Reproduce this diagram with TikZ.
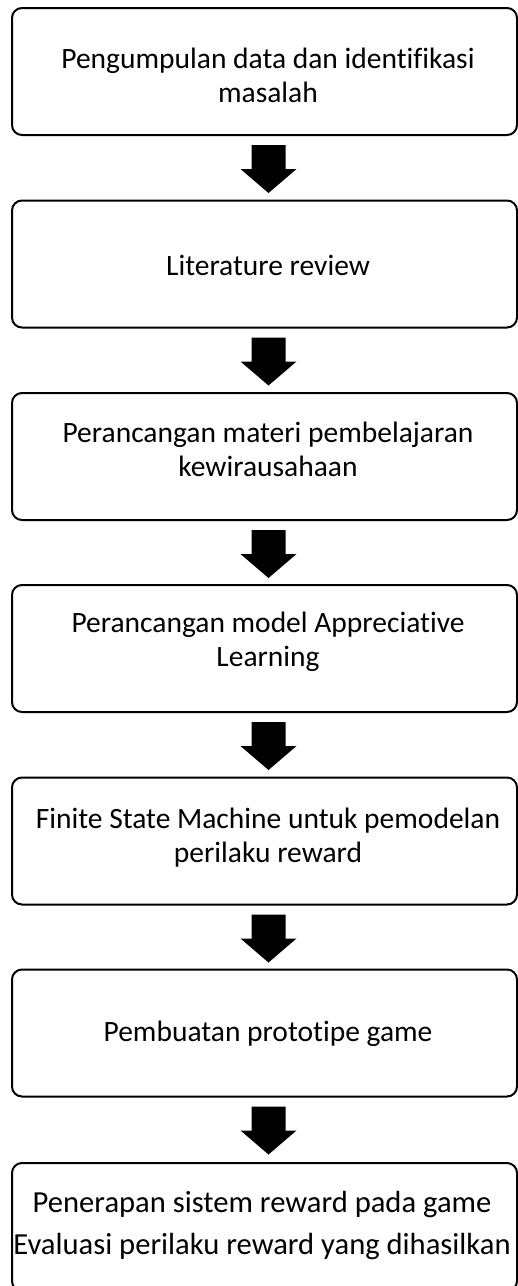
\documentclass[tikz,border=0pt]{standalone}
\usepackage{fontspec}
\setmainfont[Ligatures=NoCommon]{Carlito}
\usetikzlibrary{calc}

% one step of the flow: a rounded frame, with its caption set on top of it
\tikzset{
  stepbox/.style={draw, line width=2pt, rounded corners=10pt,
    minimum width=505pt, minimum height=127pt, inner sep=0pt},
  steptext/.style={inner sep=0pt, align=center,
    font=\fontsize{29.5pt}{34pt}\selectfont},
  flowhead/.style={fill=black}
}

% thick block arrow from the bottom of one box towards the next one
\newcommand{\stepflow}[1]{%
  \fill[flowhead] ($(#1.south)+(-13,9)$) -- ++(34,0) -- ++(0,24) -- ++(11,0)
    -- ++(-28,24) -- ++(-28,-24) -- ++(11,0) -- cycle;}

\begin{document}
\begin{tikzpicture}[x=1pt, y=-1pt]
  \useasboundingbox (0,0) rectangle (518,1286);

  \node[stepbox] (b1) at (264.5,71.5)  {};
  \node[stepbox] (b2) at (264.5,264)   {};
  \node[stepbox] (b3) at (264.5,456.5) {};
  \node[stepbox] (b4) at (264.5,648.5) {};
  \node[stepbox] (b5) at (264.5,841)   {};
  \node[stepbox] (b6) at (264.5,1033)  {};
  \node[stepbox, minimum height=128pt] (b7) at (264.5,1227) {};

  \node[steptext] (t1) at ($(b1.center)+(3.5,4)$) {Pengumpulan data dan identifikasi\\masalah};
  \node[steptext] (t2) at ($(b2.center)+(3.5,1)$) {Literature review};
  \node[steptext] (t3) at ($(b3.center)+(3.5,-7)$) {Perancangan materi pembelajaran\\kewirausahaan};
  \node[steptext] (t4) at ($(b4.center)+(3.5,-7)$) {Perancangan model Appreciative\\Learning};
  \node[steptext] (t5) at ($(b5.center)+(3.5,-3)$) {Finite State Machine untuk pemodelan\\perilaku reward};
  \node[steptext] (t6) at ($(b6.center)+(3.5,1)$) {Pembuatan prototipe game};
  \node[steptext, font=\fontsize{30.6pt}{35pt}\selectfont] (t7) at ($(b7.center)+(-2.5,-2)$)
    {Penerapan sistem reward pada game\\[7pt]Evaluasi perilaku reward yang dihasilkan};

  \stepflow{b1}
  \stepflow{b2}
  \stepflow{b3}
  \stepflow{b4}
  \stepflow{b5}
  \stepflow{b6}
\end{tikzpicture}
\end{document}
